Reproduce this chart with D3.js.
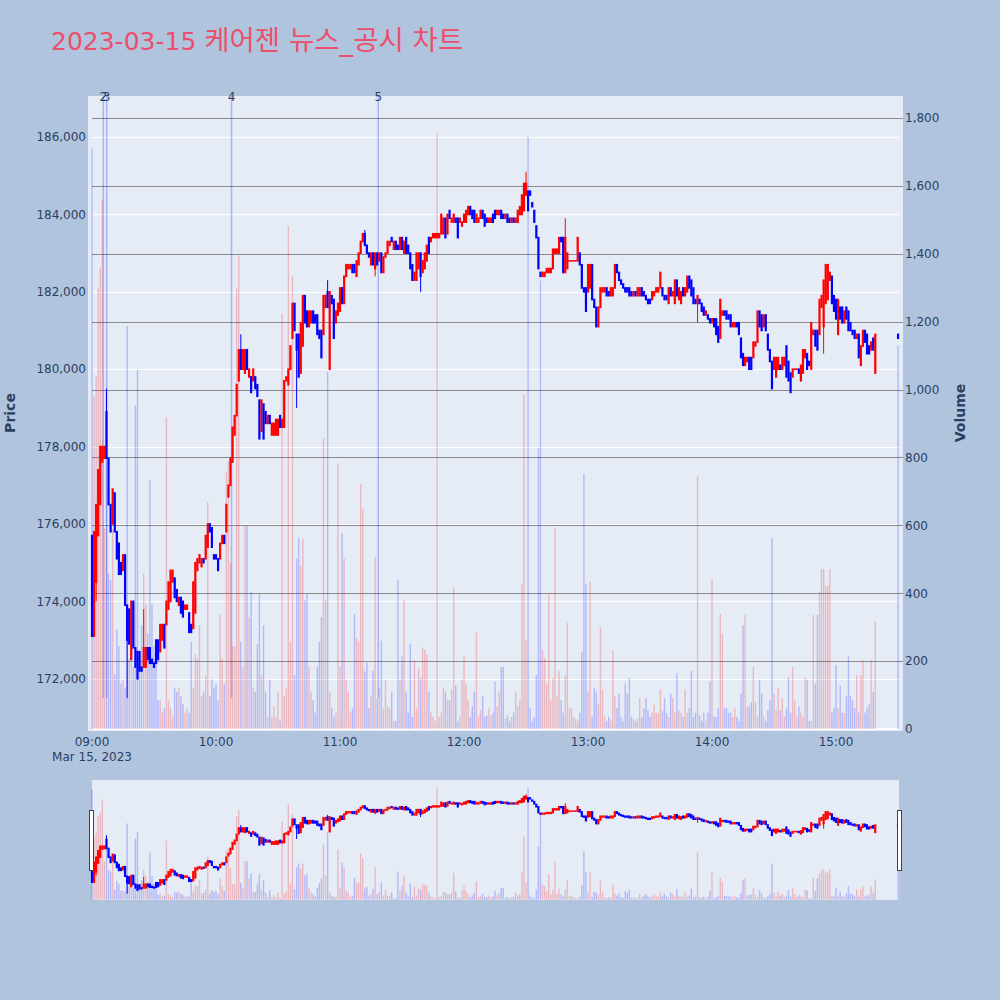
<!DOCTYPE html>
<html><head><meta charset="utf-8">
<script src="https://cdn.jsdelivr.net/npm/d3@7"></script>
<style>
body{margin:0;background:#b0c4de;}
svg{display:block;font-family:"DejaVu Sans","Noto Sans CJK KR",sans-serif;}
</style>
</head><body>
<svg id="c" width="1000" height="1000"></svg>
<script>
// ---------------- data ----------------
const chartTitleDate = "2023-03-15";
const chartTitleText = "케어젠 뉴스_공시 차트";
const dateLabel = "Mar 15, 2023";
const priceUnit = 100; // prices below are in hundreds of won
// one candle per minute from 09:00, plus the 15:30 closing auction
const closeAuctionMinute = 390;
const openH = [
1757,1731,1745,1757,1765,1776,1777,1789,1777,1765,
1760,1768,1758,1755,1750,1748,1752,1739,1738,1725,
1740,1728,1727,1727,1723,1723,1723,1728,1728,1725,
1724,1730,1730,1727,1730,1734,1734,1738,1740,1745,
1746,1743,1739,1741,1740,1738,1738,1737,1734,1733,
1737,1748,1750,1749,1751,1751,1754,1760,1759,1752,
1752,1751,1751,1755,1757,1758,1767,1770,1776,1783,
1788,1797,1805,1800,1799,1805,1798,1798,1797,1798,
1796,1792,1784,1791,1789,1786,1788,1783,1783,1783,
1783,1788,1785,1785,1797,1796,1800,1808,1817,1809,
1809,1799,1806,1819,1815,1811,1812,1815,1814,1814,
1810,1810,1809,1816,1820,1800,1819,1818,1812,1814,
1815,1821,1817,1824,1826,1826,1827,1827,1824,1827,
1830,1833,1835,1832,1830,1827,1830,1826,1830,1828,
1830,1825,1829,1830,1832,1834,1831,1833,1832,1831,
1834,1830,1834,1832,1830,1827,1823,1823,1826,1830,
1825,1826,1828,1834,1833,1834,1834,1834,1834,1835,
1835,1839,1835,1841,1838,1838,1839,1839,1838,1837,
1838,1838,1840,1842,1841,1841,1838,1838,1839,1841,
1840,1839,1838,1838,1840,1841,1840,1840,1841,1840,
1839,1840,1839,1838,1839,1838,1838,1840,1840,1841,
1845,1846,1846,1843,1841,1837,1834,1825,1824,1824,
1825,1825,1825,1826,1830,1830,1830,1834,1834,1825,
1826,1828,1828,1828,1828,1828,1830,1827,1821,1821,
1820,1821,1827,1818,1816,1811,1816,1820,1820,1821,
1820,1819,1819,1821,1827,1825,1823,1822,1821,1821,
1821,1820,1819,1820,1819,1819,1821,1820,1819,1818,
1818,1818,1819,1820,1820,1821,1821,1819,1819,1817,
1821,1819,1817,1823,1818,1817,1821,1819,1820,1824,
1823,1821,1818,1817,1818,1817,1816,1814,1814,1813,
1812,1813,1813,1811,1808,1814,1815,1815,1814,1814,
1811,1811,1812,1812,1808,1804,1801,1802,1803,1803,
1803,1806,1807,1815,1814,1811,1814,1809,1805,1802,
1800,1798,1800,1801,1800,1801,1806,1802,1799,1798,
1800,1800,1800,1797,1799,1803,1804,1802,1800,1809,
1810,1810,1809,1816,1811,1817,1818,1823,1824,1819,
1818,1809,1816,1816,1812,1816,1815,1812,1810,1810,
1808,1809,1801,1806,1810,1809,1806,1805,1808,1799,
1809];
const closeH = [
1731,1758,1765,1774,1780,1780,1780,1777,1765,1758,
1769,1758,1751,1747,1747,1752,1739,1730,1729,1740,
1728,1723,1720,1722,1722,1728,1728,1725,1724,1724,
1723,1724,1725,1734,1734,1728,1740,1745,1748,1748,
1741,1740,1741,1737,1736,1739,1739,1732,1732,1745,
1750,1751,1752,1751,1750,1757,1760,1758,1754,1751,
1751,1748,1755,1757,1755,1765,1770,1777,1785,1788,
1796,1805,1800,1805,1805,1800,1800,1794,1800,1795,
1793,1782,1792,1782,1786,1788,1786,1786,1786,1787,
1787,1785,1787,1797,1798,1800,1806,1817,1810,1805,
1798,1812,1819,1812,1811,1815,1815,1812,1812,1809,
1808,1803,1819,1819,1816,1820,1817,1808,1815,1817,
1821,1817,1824,1827,1827,1827,1825,1825,1828,1830,
1833,1835,1832,1830,1829,1830,1827,1830,1827,1830,
1825,1829,1830,1833,1833,1833,1833,1831,1831,1834,
1831,1833,1830,1830,1826,1823,1825,1830,1830,1824,
1828,1830,1832,1830,1834,1835,1835,1835,1835,1840,
1839,1834,1840,1839,1839,1840,1838,1834,1839,1838,
1840,1841,1842,1840,1839,1838,1840,1839,1841,1839,
1837,1838,1839,1839,1838,1839,1841,1841,1839,1839,
1840,1838,1838,1839,1838,1839,1841,1842,1845,1848,
1848,1841,1845,1842,1838,1834,1826,1824,1825,1825,
1826,1826,1826,1831,1831,1831,1834,1833,1825,1834,
1830,1828,1828,1828,1828,1834,1827,1821,1820,1815,
1827,1827,1818,1816,1811,1816,1821,1821,1821,1819,
1819,1821,1821,1827,1825,1823,1822,1821,1820,1820,
1819,1819,1820,1819,1821,1821,1819,1819,1818,1817,
1817,1820,1820,1821,1821,1825,1819,1818,1818,1821,
1819,1820,1823,1819,1821,1820,1819,1821,1824,1821,
1819,1817,1817,1819,1817,1815,1814,1815,1813,1812,
1813,1811,1809,1807,1818,1815,1814,1813,1813,1811,
1812,1812,1811,1809,1803,1801,1803,1803,1800,1800,
1807,1807,1815,1811,1810,1814,1810,1805,1802,1795,
1803,1803,1803,1800,1803,1803,1798,1797,1794,1800,
1800,1800,1799,1801,1805,1805,1800,1801,1812,1810,
1806,1805,1818,1819,1823,1827,1827,1825,1817,1815,
1813,1818,1813,1812,1815,1813,1810,1810,1809,1808,
1809,1803,1806,1810,1807,1804,1804,1807,1805,1809,
1808];
// wick extremes beyond the candle body (minute index, price in hundreds)
const wickHighMinute = [7, 25, 72, 114, 132, 210, 229];
const wickHighValue  = [1795, 1738, 1809, 1823, 1836, 1851, 1839];
const wickLowMinute  = [2, 17, 99, 137, 159, 293, 354];
const wickLowValue   = [1740, 1715, 1790, 1824, 1820, 1812, 1804];
const volume = [
1710,980,1040,1300,1360,1560,590,1000,458,440,
590,160,293,244,134,146,122,1187,208,318,
183,954,1058,220,306,458,367,281,734,367,
244,208,85,85,48,61,918,85,61,36,
122,110,122,97,73,48,61,48,257,122,
220,208,306,97,110,159,668,97,146,122,
134,85,336,208,134,758,788,489,244,244,
1297,1395,257,183,599,599,330,404,122,110,
250,398,159,306,110,36,146,36,67,36,
110,24,1224,97,122,1481,257,1334,159,502,
563,480,560,379,398,183,110,85,48,183,
257,330,856,380,1052,110,61,36,48,783,
183,576,502,146,110,48,61,339,269,257,
722,650,170,196,61,97,171,507,90,122,
260,61,146,67,61,110,24,24,440,146,
214,379,110,48,251,36,202,61,177,150,
240,233,220,110,48,36,24,1756,36,48,
122,110,85,85,116,416,128,24,36,146,
214,134,85,36,67,110,285,36,55,97,
36,40,61,40,48,140,67,110,183,183,
30,40,24,36,48,110,67,85,428,985,
260,1744,61,24,36,159,826,1321,232,208,
134,398,85,150,593,97,171,85,48,159,
312,61,61,36,30,24,48,226,752,428,
110,434,36,122,110,73,300,116,36,24,
36,24,232,97,61,104,36,24,134,104,
152,36,30,24,30,91,36,61,91,55,
36,48,73,48,48,116,55,91,48,36,
104,91,48,165,55,48,36,116,48,61,
171,36,48,746,40,24,48,24,48,140,
440,36,36,61,339,281,61,61,48,48,
36,61,36,24,104,306,336,67,67,79,
183,79,36,146,104,36,24,55,85,563,
104,55,122,55,91,36,60,152,48,183,
85,36,67,48,36,152,146,24,24,336,
134,336,404,471,471,422,422,471,48,61,
189,61,128,48,48,97,214,97,85,61,
159,48,159,202,48,61,73,202,110,318,
1130];
// news / disclosure markers
const newsLabels = ["2", "3", "4", "5"];
const newsTimes  = ["09:05:28", "09:07:06", "10:07:30", "11:18:30"];
const priceTicks = [172000, 174000, 176000, 178000, 180000, 182000, 184000, 186000];
const volumeTicks = [0, 200, 400, 600, 800, 1000, 1200, 1400, 1600, 1800];
const hourTicks = ["09:00", "10:00", "11:00", "12:00", "13:00", "14:00", "15:00"];

// ---------------- build ----------------
const svg = d3.select("#c");
const base = new Date(2023, 2, 15, 9, 0, 0);
const at = m => new Date(base.getTime() + m * 60000);
const parseHMS = s => { const p = s.split(":").map(Number); return new Date(2023, 2, 15, p[0], p[1], p[2] || 0); };

const minuteIdx = d3.range(openH.length - 1).concat([closeAuctionMinute]);
let prevUp = false;
const data = minuteIdx.map((m, i) => {
  const o = openH[i] * priceUnit, c = closeH[i] * priceUnit;
  let h = Math.max(o, c), l = Math.min(o, c);
  const hi = wickHighMinute.indexOf(i); if (hi >= 0) h = Math.max(h, wickHighValue[hi] * priceUnit);
  const li = wickLowMinute.indexOf(i); if (li >= 0) l = Math.min(l, wickLowValue[li] * priceUnit);
  const up = c > o ? true : (c < o ? false : prevUp);
  prevUp = up;
  return {t: at(m), o, c, h, l, v: volume[i], up};
});
const dayLow = d3.min(data, d => d.l);

const UP = "#ff0000", DOWN = "#0000ff";
const UPV = "rgba(255,0,0,0.22)", DOWNV = "rgba(0,0,255,0.22)";

// main plot
const P = {l: 88, r: 903, t: 96, b: 731};
const x = d3.scaleTime().domain([at(-1.94), at(392.4)]).range([P.l, P.r]);
const yP = d3.scaleLinear().domain([170650, 187060]).range([P.b, P.t]);
const yV = d3.scaleLinear().domain([-5.9, 1864.9]).range([P.b, P.t]);

svg.append("rect").attr("x", P.l).attr("y", P.t).attr("width", P.r - P.l).attr("height", P.b - P.t).attr("fill", "#e5ecf6");

const g = svg.append("g");
// price grid (white)
g.selectAll(".pg").data(priceTicks).join("line")
  .attr("x1", 92).attr("x2", 899).attr("y1", d => Math.round(yP(d)) + 0.5).attr("y2", d => Math.round(yP(d)) + 0.5)
  .attr("stroke", "#ffffff").attr("stroke-width", 1);
// volume grid (dark)
g.selectAll(".vg").data(volumeTicks.filter(d => d > 0)).join("line")
  .attr("x1", 92).attr("x2", 903).attr("y1", d => Math.round(yV(d)) + 0.5).attr("y2", d => Math.round(yV(d)) + 0.5)
  .attr("stroke", "#8a8a8a").attr("stroke-width", 1);
g.append("line").attr("x1", 92).attr("x2", 899).attr("y1", yV(0)).attr("y2", yV(0)).attr("stroke", "#fff").attr("stroke-width", 2);

// volume bars
g.selectAll(".vb").data(data).join("rect")
  .attr("x", d => x(d.t) - 0.7).attr("width", 1.4)
  .attr("y", d => yV(d.v)).attr("height", d => yV(0) - yV(d.v))
  .attr("fill", d => d.up ? UPV : DOWNV);

// news lines
const news = newsLabels.map((lab, i) => ({lab, t: parseHMS(newsTimes[i])}));
g.selectAll(".nl").data(news).join("line")
  .attr("x1", d => x(d.t)).attr("x2", d => x(d.t)).attr("y1", yP(dayLow)).attr("y2", P.t)
  .attr("stroke", "rgba(40,60,255,0.32)").attr("stroke-width", 1.5);

// candles
function drawCandles(sel, xs, ys, bodyW) {
  sel.selectAll(".wk").data(data).join("line")
    .attr("x1", d => xs(d.t)).attr("x2", d => xs(d.t))
    .attr("y1", d => ys(d.h)).attr("y2", d => ys(d.l))
    .attr("stroke", d => d.up ? UP : DOWN).attr("stroke-width", 1);
  sel.selectAll(".bd").data(data).join("rect")
    .attr("x", d => xs(d.t) - bodyW / 2).attr("width", bodyW)
    .attr("y", d => Math.min(ys(d.o), ys(d.c)) - 0.8)
    .attr("height", d => Math.abs(ys(d.o) - ys(d.c)) + 1.6)
    .attr("fill", d => d.up ? UP : DOWN);
}
drawCandles(g.append("g"), x, yP, 2.2);

// news labels
const tickColor = "#2a3f5f";
svg.selectAll(".nt").data(news).join("text")
  .attr("x", d => x(d.t)).attr("y", 101).attr("text-anchor", "middle")
  .attr("font-size", 12).attr("fill", tickColor).text(d => d.lab);

// axes labels
svg.selectAll(".pt").data(priceTicks).join("text")
  .attr("x", 86).attr("y", d => yP(d) + 4.3).attr("text-anchor", "end")
  .attr("font-size", 12).attr("fill", tickColor).text(d => d3.format(",")(d));
svg.selectAll(".vt").data(volumeTicks).join("text")
  .attr("x", 905).attr("y", d => yV(d) + 4.3).attr("text-anchor", "start")
  .attr("font-size", 12).attr("fill", tickColor).text(d => d3.format(",")(d));
svg.selectAll(".xt").data(hourTicks).join("text")
  .attr("x", d => x(parseHMS(d + ":00"))).attr("y", 746).attr("text-anchor", "middle")
  .attr("font-size", 12).attr("fill", tickColor).text(d => d);
svg.append("text").attr("x", x(parseHMS(hourTicks[0] + ":00"))).attr("y", 761).attr("text-anchor", "middle")
  .attr("font-size", 12).attr("fill", tickColor).text(dateLabel);

svg.append("text").attr("transform", "translate(15,413) rotate(-90)").attr("text-anchor", "middle")
  .attr("font-size", 14).attr("font-weight", "bold").attr("fill", tickColor).text("Price");
svg.append("text").attr("transform", "translate(965,413) rotate(-90)").attr("text-anchor", "middle")
  .attr("font-size", 14).attr("font-weight", "bold").attr("fill", tickColor).text("Volume");

// title
const title = svg.append("text").attr("x", 51).attr("y", 50).attr("font-size", 25).attr("fill", "#ec4f6b");
title.append("tspan").text(chartTitleDate + " ");
title.append("tspan").attr("font-size", 27.5).text(chartTitleText);

// range slider
const S = {l: 92, r: 899, t: 780, b: 900};
svg.append("rect").attr("x", S.l).attr("y", S.t).attr("width", S.r - S.l).attr("height", S.b - S.t).attr("fill", "#e5ecf6");
const x2 = d3.scaleTime().domain([at(0), at(closeAuctionMinute)]).range([92, 898]);
const yP2 = d3.scaleLinear().domain(yP.domain()).range([S.b, S.t]);
const yV2 = d3.scaleLinear().domain(yV.domain()).range([S.b, S.t]);
const sg = svg.append("g");
sg.selectAll(".vb2").data(data).join("rect")
  .attr("x", d => x2(d.t) - 0.7).attr("width", 1.4)
  .attr("y", d => yV2(d.v)).attr("height", d => yV2(0) - yV2(d.v))
  .attr("fill", d => d.up ? UPV : DOWNV);
drawCandles(sg.append("g"), x2, yP2, 2.2);
[89.5, 897.5].forEach(hx => {
  svg.append("rect").attr("x", hx).attr("y", 810.5).attr("width", 4).attr("height", 60)
    .attr("fill", "#fff").attr("stroke", "#444").attr("stroke-width", 1);
});
</script>
</body></html>
